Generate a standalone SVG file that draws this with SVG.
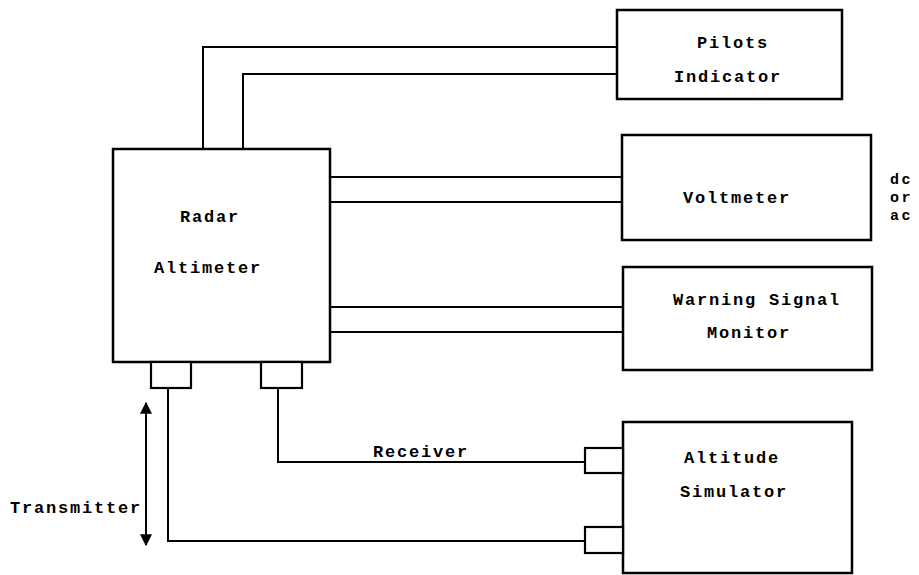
<svg xmlns="http://www.w3.org/2000/svg" width="919" height="575" viewBox="0 0 919 575">
<style>
.box{fill:#fff;stroke:#000;stroke-width:2.5}
.port{fill:#fff;stroke:#000;stroke-width:2.2}
.wire{fill:none;stroke:#000;stroke-width:2}
text{font-family:"Liberation Mono","DejaVu Sans Mono",monospace;font-weight:bold;font-size:17px;letter-spacing:1.8px;fill:#000}
.side{font-size:15px;letter-spacing:2.5px}
</style>
<defs>
<marker id="ah" viewBox="0 0 10 10" refX="9" refY="5" markerWidth="6" markerHeight="6" orient="auto-start-reverse" markerUnits="strokeWidth">
<path d="M0,0 L10,5 L0,10 z" fill="#000"/>
</marker>
</defs>
<rect width="919" height="575" fill="#fff"/>
<g id="connectors">
<polyline class="wire" points="203,149 203,47 617,47"/>
<polyline class="wire" points="243,149 243,74 617,74"/>
<line class="wire" x1="330" y1="177" x2="622" y2="177"/>
<line class="wire" x1="330" y1="202" x2="622" y2="202"/>
<line class="wire" x1="330" y1="307" x2="623" y2="307"/>
<line class="wire" x1="330" y1="332" x2="623" y2="332"/>
<polyline class="wire" points="278,388 278,462 585,462"/>
<polyline class="wire" points="168,388 168,541 585,541"/>
<line class="wire" x1="146" y1="403" x2="146" y2="545" marker-start="url(#ah)" marker-end="url(#ah)"/>
<text x="373" y="457">Receiver</text>
<text x="10" y="513">Transmitter</text>
</g>
<g id="radar-altimeter">
<rect class="box" x="113" y="149" width="217" height="213"/>
<rect class="port" x="151" y="362" width="40" height="26"/>
<rect class="port" x="261" y="362" width="41" height="26"/>
<text x="180" y="222">Radar</text>
<text x="154" y="273">Altimeter</text>
</g>
<g id="pilots-indicator">
<rect class="box" x="617" y="10" width="225" height="89"/>
<text x="697" y="48">Pilots</text>
<text x="674" y="82">Indicator</text>
</g>
<g id="voltmeter">
<rect class="box" x="622" y="135" width="249" height="105"/>
<text x="683" y="203">Voltmeter</text>
<text class="side" x="890" y="184">dc</text>
<text class="side" x="890" y="202">or</text>
<text class="side" x="890" y="220">ac</text>
</g>
<g id="warning-signal-monitor">
<rect class="box" x="623" y="267" width="249" height="103"/>
<text x="673" y="305">Warning Signal</text>
<text x="707" y="338">Monitor</text>
</g>
<g id="altitude-simulator">
<rect class="box" x="623" y="422" width="229" height="151"/>
<rect class="port" x="585" y="448" width="38" height="25"/>
<rect class="port" x="585" y="527" width="38" height="26"/>
<text x="684" y="463">Altitude</text>
<text x="680" y="497">Simulator</text>
</g>
</svg>
